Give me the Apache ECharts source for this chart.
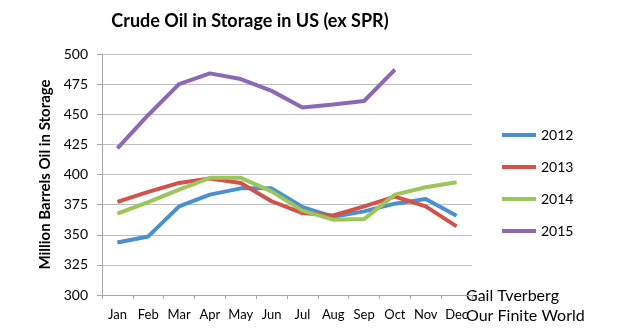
<!DOCTYPE html>
<html><head><meta charset="utf-8">
<script src="https://cdn.jsdelivr.net/npm/echarts@6/dist/echarts.min.js"></script>
<style>html,body{margin:0;padding:0;background:#fff}#c{width:640px;height:334px}</style>
</head><body><div id="c"></div>
<script>
const months = ['Jan','Feb','Mar','Apr','May','Jun','Jul','Aug','Sep','Oct','Nov','Dec'];
const s2012 = [343.6, 348.6, 373.6, 383.3, 388.5, 388.5, 373, 365, 369.4, 375.8, 379.7, 365.8];
const s2013 = [377.2, 385.6, 393, 396.7, 393, 377.8, 368, 366, 373.6, 381.7, 373.6, 357];
const s2014 = [367.5, 377, 387.5, 397.2, 397.2, 386, 370, 362.5, 363, 383.3, 389.4, 393.6];
const s2015 = [421.7, 449.4, 475, 483.9, 479.2, 469.4, 455.6, 458, 461, 487];
const seriesNames = ['2012','2013','2014','2015'];
const colors = ['#4a8fd0','#d2524b','#9cc55a','#8b69b4'];
const FONT = 'Lato';

const chart = echarts.init(document.getElementById('c'));
const data = [s2012, s2013, s2014, s2015];
chart.setOption({
  animation: false,
  textStyle: {fontFamily: FONT},
  title: {
    text: 'Crude Oil in Storage in US (ex SPR)',
    left: 245, top: 7, textAlign: 'center',
    textStyle: {fontFamily: FONT, fontWeight: 'bold', fontSize: 18, color: '#000'}
  },
  grid: {left: 102, right: 168, top: 54, bottom: 39, containLabel: false},
  legend: {
    orient: 'vertical', left: 497, top: 123,
    itemWidth: 34, itemHeight: 4, itemGap: 18,
    icon: 'rect',
    data: seriesNames,
    textStyle: {fontFamily: FONT, fontSize: 14, color: '#000', lineHeight: 14}
  },
  xAxis: {
    type: 'category', data: months, boundaryGap: true,
    axisLine: {lineStyle: {color: '#a6a6a6', width: 1}},
    axisTick: {show: true, alignWithLabel: false, length: 4, lineStyle: {color: '#a6a6a6'}},
    axisLabel: {fontFamily: FONT, fontSize: 13, color: '#000', margin: 13, interval: 0}
  },
  yAxis: {
    type: 'value', min: 300, max: 500, interval: 25,
    name: 'Million Barrels Oil in Storage', nameLocation: 'middle', nameGap: 48,
    nameTextStyle: {fontFamily: FONT, fontWeight: 'bold', fontSize: 15, color: '#000'},
    axisLine: {show: true, lineStyle: {color: '#a6a6a6'}},
    axisTick: {show: true, length: 5, lineStyle: {color: '#a6a6a6'}},
    axisLabel: {fontFamily: FONT, fontSize: 14, color: '#000', margin: 14},
    splitLine: {lineStyle: {color: '#bfbfbf', width: 1}}
  },
  series: seriesNames.map((n, i) => ({
    name: n, type: 'line', data: data[i], showSymbol: false, symbol: 'none',
    lineStyle: {width: 4, color: colors[i]}, itemStyle: {color: colors[i]}
  })),
  graphic: [
    {type: 'text', left: 466, top: 288, style: {text: 'Gail Tverberg', font: '16px ' + FONT, fill: '#000'}},
    {type: 'text', left: 466, top: 308, style: {text: 'Our Finite World', font: '16px ' + FONT, fill: '#000'}}
  ]
});
</script></body></html>
